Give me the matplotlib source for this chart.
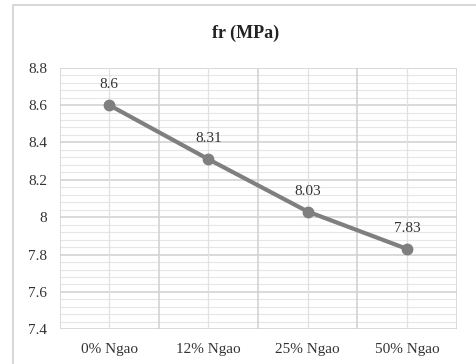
import matplotlib.pyplot as plt
from matplotlib.patches import Rectangle
from matplotlib.ticker import MultipleLocator, FixedLocator

categories = ["0% Ngao", "12% Ngao", "25% Ngao", "50% Ngao"]
fr_values = [8.6, 8.31, 8.03, 7.83]
y_ticks = [7.4, 7.6, 7.8, 8.0, 8.2, 8.4, 8.6, 8.8]
y_tick_labels = ["7.4", "7.6", "7.8", "8", "8.2", "8.4", "8.6", "8.8"]

plt.rcParams["font.family"] = ["Liberation Serif", "DejaVu Serif"]

W, H = 476, 364
fig = plt.figure(figsize=(W / 100, H / 100), dpi=100)

# chart frame
fig.patches.append(Rectangle((13 / W, -0.05), 1.0, 1 - 5 / H + 0.05,
                             transform=fig.transFigure, fill=False,
                             edgecolor="#d0d0d0", linewidth=1.2))

left, right, top, bottom = 59.5, 456.7, 67.7, 329.3
ax = fig.add_axes([left / W, 1 - bottom / H, (right - left) / W, (bottom - top) / H])

x = list(range(len(categories)))
ax.plot(x, fr_values, color="#7f7f7f", linewidth=3, marker="o",
        markersize=7.5, solid_capstyle="round", zorder=3)

for xi, v in zip(x, fr_values):
    ax.annotate(f"{v:g}", (xi, v), xytext=(0, 10), textcoords="offset points",
                ha="center", va="bottom", fontsize=11, color="#333333")

ax.set_xlim(-0.5, len(categories) - 0.5)
ax.set_ylim(7.4, 8.8)

ax.yaxis.set_major_locator(FixedLocator(y_ticks))
ax.set_yticklabels(y_tick_labels)
ax.yaxis.set_minor_locator(MultipleLocator(0.04))

# vertical gridlines at category boundaries and centres
ax.xaxis.set_major_locator(FixedLocator(x))
ax.set_xticklabels(categories)
for b in [i - 0.5 for i in range(len(categories) + 1)]:
    ax.axvline(b, color="#d0d0d0", linewidth=1.1, zorder=1)
for c in x:
    ax.axvline(c, color="#e0e0e0", linewidth=0.9, zorder=1)

ax.grid(axis="y", which="major", color="#d0d0d0", linewidth=1.1, zorder=1)
ax.grid(axis="y", which="minor", color="#e6e6e6", linewidth=0.8, zorder=1)
ax.set_axisbelow(True)

for s in ax.spines.values():
    s.set_visible(False)
ax.tick_params(axis="both", which="both", length=0, labelsize=11,
               colors="#333333")
ax.tick_params(axis="y", pad=9)
ax.tick_params(axis="x", pad=10)

fig.text(246 / W, 1 - 33 / H, "fr (MPa)", ha="center", va="center",
         fontsize=13, fontweight="bold", color="#222222")

fig.savefig("out.png", dpi=100)
